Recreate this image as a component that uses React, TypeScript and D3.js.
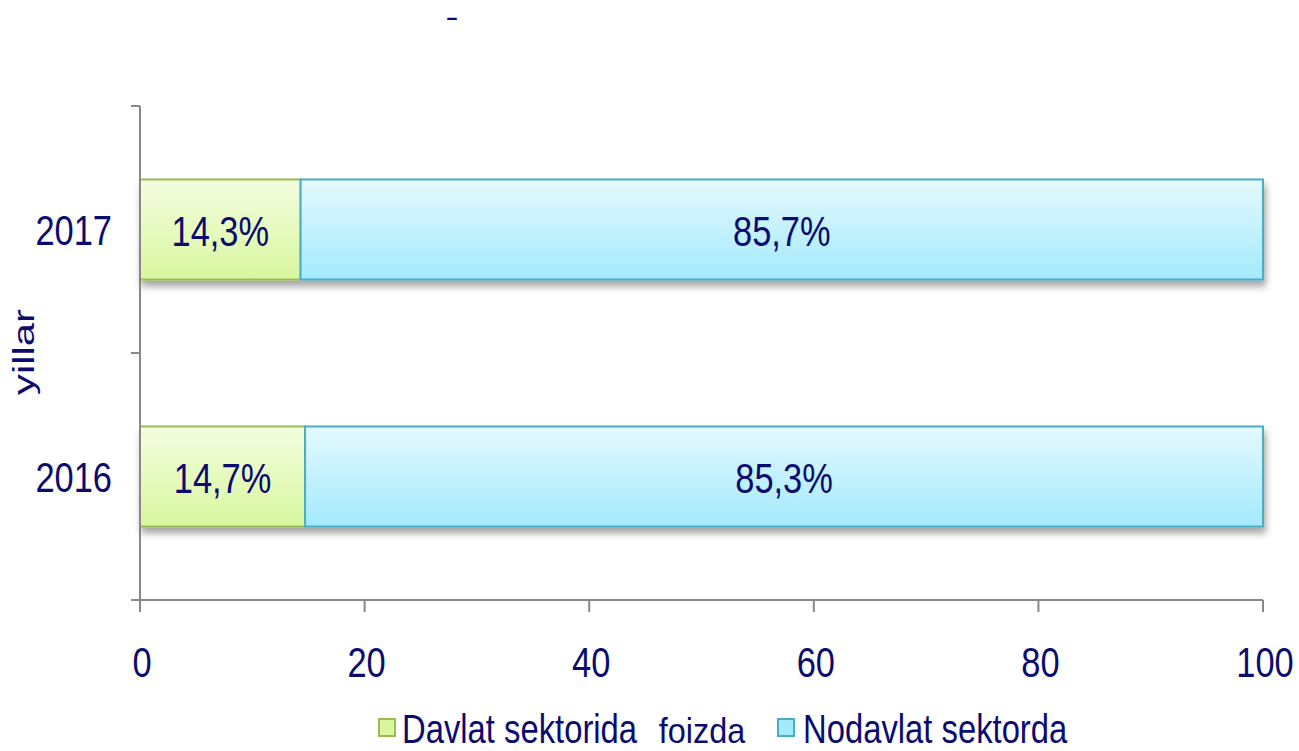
import React from 'react';
import * as d3 from 'd3';

// données du graphique
const years = ['2017', '2016'];
const davlat = [14.3, 14.7];
const nodavlat = [85.7, 85.3];
const davlatLabels = ['14,3%', '14,7%'];
const nodavlatLabels = ['85,7%', '85,3%'];
const xTicks = [0, 20, 40, 60, 80, 100];
const seriesNames = ['Davlat sektorida', 'Nodavlat sektorda'];

const W = 1299;
const H = 751;
const FONT = "'Liberation Sans', Arial, sans-serif";
const TXT = '#0b0b70';
const AXIS = '#888888';
const NARROW = 0.82; // police étroite simulée

// texte compressé horizontalement (Arial Narrow n'est pas dispo)
const NText = ({ x, y, size, anchor = 'start', sx = NARROW, children }: any) => (
  <text transform={`translate(${x},${y}) scale(${sx},1)`} textAnchor={anchor}
    fontSize={size} fill={TXT}>{children}</text>
);

const App = () => {
  const x = d3.scaleLinear().domain([0, 100]).range([140, 1263]);
  const y = d3.scaleBand().domain(years).range([106, 600]).paddingInner(0.595).paddingOuter(0.2975);
  const yEdges = d3.scaleBand().domain(years).range([106, 600]);

  return (
    <svg width={W} height={H} style={{ position: 'absolute', left: 0, top: 0 }} fontFamily={FONT}>
      <defs>
        <linearGradient id="gGreen" x1="0" y1="0" x2="0" y2="1">
          <stop offset="0%" stopColor="#f4fde0" />
          <stop offset="100%" stopColor="#d8f79e" />
        </linearGradient>
        <linearGradient id="gBlue" x1="0" y1="0" x2="0" y2="1">
          <stop offset="0%" stopColor="#e4f9fe" />
          <stop offset="100%" stopColor="#a3eafd" />
        </linearGradient>
        <filter id="shadow" x="-5%" y="-20%" width="110%" height="150%">
          <feDropShadow dx="2" dy="6" stdDeviation="3.5" floodColor="#000" floodOpacity="0.35" />
        </filter>
      </defs>

      <NText x={452} y={27} size={30} sx={1.3} anchor="middle">-</NText>

      {/* barres */}
      {years.map((yr, i) => {
        const y0 = y(yr)!;
        const h = y.bandwidth();
        return (
          <g key={yr} filter="url(#shadow)">
            <rect x={x(0)} y={y0} width={x(davlat[i]) - x(0)} height={h}
              fill="url(#gGreen)" stroke="#9bbb59" strokeWidth={2} />
            <rect x={x(davlat[i])} y={y0} width={x(davlat[i] + nodavlat[i]) - x(davlat[i])} height={h}
              fill="url(#gBlue)" stroke="#4bacc6" strokeWidth={2} />
          </g>
        );
      })}
      {years.map((yr, i) => {
        const cy = y(yr)! + y.bandwidth() / 2 + 16;
        return (
          <g key={'l' + yr}>
            <NText x={(x(0) + x(davlat[i])) / 2} y={cy} size={42} anchor="middle">{davlatLabels[i]}</NText>
            <NText x={(x(davlat[i]) + x(davlat[i] + nodavlat[i])) / 2} y={cy} size={42} anchor="middle">{nodavlatLabels[i]}</NText>
          </g>
        );
      })}

      {/* axe Y */}
      <line x1={140} x2={140} y1={106} y2={600} stroke={AXIS} strokeWidth={2} />
      {[...years.map((yr) => yEdges(yr)!), 600].map((v, i) => (
        <line key={'yt' + i} x1={131} x2={140} y1={v} y2={v} stroke={AXIS} strokeWidth={2} />
      ))}
      {years.map((yr) => (
        <NText key={'yl' + yr} x={112} y={y(yr)! + y.bandwidth() / 2 + 15} size={42} anchor="end">{yr}</NText>
      ))}
      <text transform="translate(34,352) rotate(-90)" textAnchor="middle" fontSize={29} fill={TXT}
        textLength={86} lengthAdjust="spacingAndGlyphs">yillar</text>

      {/* axe X */}
      <line x1={131} x2={1263} y1={600} y2={600} stroke={AXIS} strokeWidth={2} />
      {xTicks.map((t) => (
        <g key={'xt' + t}>
          <line x1={x(t)} x2={x(t)} y1={600} y2={612} stroke={AXIS} strokeWidth={2} />
          <NText x={x(t) + 2} y={677} size={42} anchor="middle">{t}</NText>
        </g>
      ))}
      <NText x={702} y={743} size={36} sx={0.9} anchor="middle">foizda</NText>

      {/* légende */}
      <rect x={379} y={719} width={16} height={17} fill="#d8f79e" stroke="#9bbb59" strokeWidth={2} />
      <NText x={402} y={743} size={40}>{seriesNames[0]}</NText>
      <rect x={778} y={719} width={16} height={17} fill="#a3eafd" stroke="#4bacc6" strokeWidth={2} />
      <NText x={803} y={743} size={40}>{seriesNames[1]}</NText>
    </svg>
  );
};

export default App;
